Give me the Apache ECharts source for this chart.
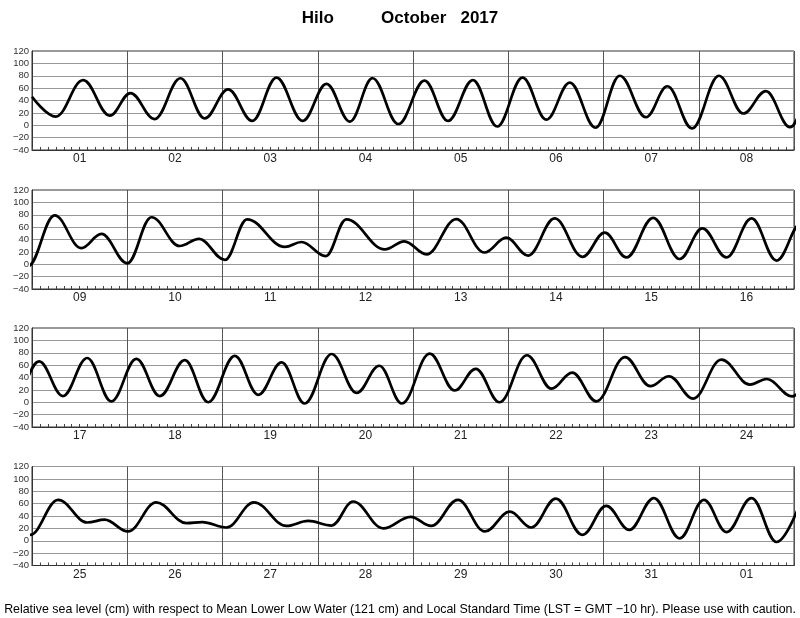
<!DOCTYPE html>
<html>
<head>
<meta charset="utf-8">
<script src="https://cdn.jsdelivr.net/npm/echarts@6/dist/echarts.min.js"></script>
<style>html,body{margin:0;padding:0;background:#fff}#c{width:800px;height:618px}</style>
</head>
<body>
<div id="c"></div>
<script>
// Tide extrema: hours since 2017-10-01 00:00 LST, level in cm
const hours = [
  0, 6.0, 12.9, 19.6, 24.8, 30.9, 37.4, 43.5, 49.4, 55.5, 61.6, 68.2, 74.2, 80.1, 85.8, 92.3,
  98.9, 104.8, 111.1, 117.2, 123.6, 129.6, 135.5, 142.0, 148.1, 154.7, 160.1, 166.3, 173.1, 179.2, 184.9, 191.0,
  197.7, 204.4, 209.5, 216.0, 222.1, 229.2, 234.1, 240.6, 246.2, 255.7, 259.9, 266.0, 271.2, 280.9, 285.8,
  291.4, 298.9, 306.0, 311.5, 317.0, 323.7, 330.7, 336.3, 341.8, 348.5, 355.2, 360.9, 367.0, 373.3, 379.6,
  385.8, 391.8, 397.9, 404.0, 410.3, 416.2, 422.5, 428.4, 435.1, 441.0, 446.9, 452.7, 459.5, 465.8, 471.5, 477.2,
  484.2, 490.5, 495.8, 501.8, 508.7, 514.9, 520.1, 526.2, 533.4, 539.8, 544.5, 550.6, 557.7, 564.9, 569.1, 575.5,
  582.6, 589.9, 594.3, 600.2, 607.3, 614.9, 618.9, 625.0, 631.9, 640.1, 645.6, 651.5, 656.9, 664.5, 671.4,
  676.6, 683.3, 690.1, 696.4, 701.8, 708.0, 714.7, 720.7, 726.5, 732.7, 739.2, 745.3, 751.0, 757.3, 763.6, 770.0
];
const levels = [
  46, 14, 73, 15.5, 52, 10, 76, 11, 58, 7, 77, 7, 67, 6, 76, 2,
  72, 7, 73, -2, 77, 9, 69, -4, 80, 13, 63, -5, 80, 19, 55, -3,
  79, 26, 49, 1.5, 76, 29.5, 41, 7, 72.6, 28, 36, 13, 72.6, 24, 37,
  16, 73, 19, 43, 14, 74, 12, 51, 11, 75, 8.5, 58, 11, 74, 6,
  66, 10, 71.5, 1.5, 70, 10, 68, 0, 75, 12, 64.5, -2, 78, 15, 59, -2,
  78.5, 19, 54, 0, 76, 22, 48, 1.5, 73, 26, 42, 6, 69, 28.5, 37.6, 9.5,
  66, 29.5, 34, 15, 62, 28.4, 30, 21.4, 62, 24, 32, 24.6, 63.4, 20, 38.7,
  24, 66, 15, 47, 21.4, 68, 9.6, 56.4, 17.6, 69, 4, 66, 14, 69, -2, 68
];
const panelDays = [
  ['01','02','03','04','05','06','07','08'],
  ['09','10','11','12','13','14','15','16'],
  ['17','18','19','20','21','22','23','24'],
  ['25','26','27','28','29','30','31','01']
];
const yTicks = [-40, -20, 0, 20, 40, 60, 80, 100, 120];
const titleText = 'Hilo          October   2017';
const footText = 'Relative sea level (cm) with respect to Mean Lower Low Water (121 cm) and Local Standard Time (LST = GMT \u221210 hr). Please use with caution.';

const FONT = '"Liberation Sans", Arial, Helvetica, sans-serif';
const tops = [51, 190, 328, 466.5];
const H = 99;
const seriesData = hours.map((h, i) => [h, levels[i]]);

const grids = [], xAxes = [], yAxes = [], series = [];
tops.forEach((top, p) => {
  grids.push({left: 32, right: 6, top: top, height: H, show: true, borderColor: '#333', borderWidth: 1, backgroundColor: 'transparent'});
  xAxes.push({
    type: 'value', gridIndex: p, min: 192 * p, max: 192 * (p + 1), interval: 24,
    axisLine: {show: true, onZero: false, lineStyle: {color: '#333', width: 1}},
    axisTick: {show: true, inside: true, length: 3, lineStyle: {color: '#444'}},
    minorTick: {show: true, splitNumber: 12, length: 3, lineStyle: {color: '#444'}},
    axisLabel: {show: false},
    splitLine: {show: true, lineStyle: {color: '#555', width: 1}}
  });
  xAxes.push({
    type: 'category', gridIndex: p, position: 'bottom', data: panelDays[p], boundaryGap: true,
    axisLine: {show: false, onZero: false}, axisTick: {show: false}, splitLine: {show: false},
    axisLabel: {fontFamily: FONT, fontSize: 12, color: '#222', margin: 3}
  });
  yAxes.push({
    type: 'value', gridIndex: p, min: yTicks[0], max: yTicks[yTicks.length - 1], interval: 20,
    axisLine: {show: true, onZero: false, lineStyle: {color: '#333'}},
    axisTick: {show: false},
    axisLabel: {fontFamily: FONT, fontSize: 9.5, color: '#333', margin: 3,
      formatter: v => v < 0 ? '\u2212' + (-v) : String(v)},
    splitLine: {show: true, lineStyle: {color: '#999', width: 1}}
  });
  series.push({
    type: 'line', xAxisIndex: 2 * p, yAxisIndex: p, data: seriesData,
    smooth: 0.38, smoothMonotone: 'x', showSymbol: false, symbol: 'none', clip: true,
    lineStyle: {color: '#000', width: 2.7}, silent: true, animation: false
  });
});

const chart = echarts.init(document.getElementById('c'), null, {renderer: 'canvas'});
chart.setOption({
  animation: false,
  backgroundColor: '#fff',
  title: [
    {text: titleText, left: 'center', top: 5, textStyle: {fontFamily: FONT, fontSize: 17, fontWeight: 'bold', color: '#000'}},
    {text: footText, left: 'center', top: 599, textStyle: {fontFamily: FONT, fontSize: 12.4, fontWeight: 'normal', color: '#000'}}
  ],
  grid: grids, xAxis: xAxes, yAxis: yAxes, series: series
});
</script>
</body>
</html>
